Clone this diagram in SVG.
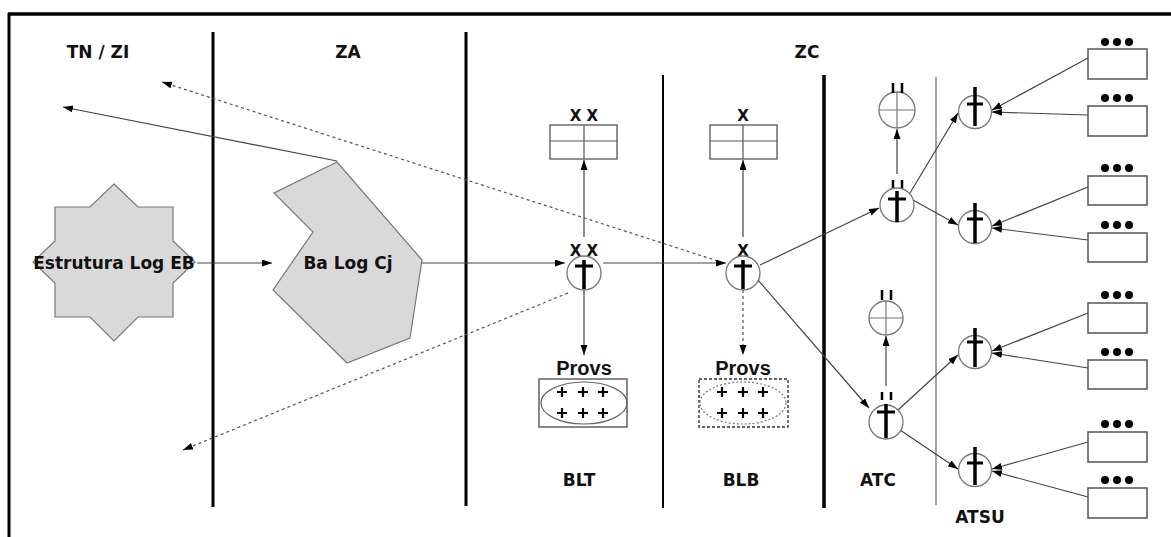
<svg xmlns="http://www.w3.org/2000/svg" width="1171" height="537" viewBox="0 0 1171 537">
<style>
.lbl{font-family:"DejaVu Sans",sans-serif;font-weight:bold;font-size:17px;fill:#111;text-anchor:middle}
.xs{font-family:"DejaVu Sans",sans-serif;font-weight:bold;font-size:15px;fill:#111;text-anchor:middle}
.prov{font-family:"Liberation Sans",Arial,sans-serif;font-weight:bold;font-size:20px;fill:#111;text-anchor:middle}
.div{stroke:#000;fill:none}
.con{stroke:#444;stroke-width:1.2;fill:none}
.dot{stroke:#555;stroke-width:1.2;fill:none;stroke-dasharray:3 3}
.circ{fill:#fff;stroke:#777;stroke-width:1.3}
.cross{stroke:#000;fill:none}
.box{fill:#fff;stroke:#555;stroke-width:1.5}
.shape{fill:#d9d9d9;stroke:#777;stroke-width:1.2}
.plus{stroke:#000;stroke-width:2.2}
</style>
<defs>
<marker id="ah" markerUnits="userSpaceOnUse" markerWidth="11" markerHeight="8" refX="10" refY="3.5" orient="auto">
<path d="M0,0 L10,3.5 L0,7 z" fill="#000"/>
</marker>
</defs>
<rect width="1171" height="537" fill="#fff"/>
<g id="frame">
<line x1="8" y1="14" x2="1171" y2="14" stroke="#000" stroke-width="3.5"/>
<line x1="9" y1="13" x2="9" y2="537" stroke="#000" stroke-width="3"/>
<line class="div" x1="213" y1="32" x2="213" y2="507" stroke-width="3"/>
<line class="div" x1="466" y1="32" x2="466" y2="506" stroke-width="3"/>
<line class="div" x1="663" y1="75" x2="663" y2="508" stroke-width="2"/>
<line class="div" x1="824" y1="75" x2="824" y2="508" stroke-width="3.5"/>
<line x1="936" y1="77" x2="936" y2="505" stroke="#666" stroke-width="1.2"/>
</g>
<g id="zone-labels">
<text class="lbl" x="98" y="58">TN / ZI</text>
<text class="lbl" x="348" y="58">ZA</text>
<text class="lbl" x="807" y="58">ZC</text>
<text class="lbl" x="579" y="486">BLT</text>
<text class="lbl" x="741" y="486">BLB</text>
<text class="lbl" x="878" y="486">ATC</text>
<text class="lbl" x="980" y="523">ATSU</text>
</g>
<g id="connectors">
<line class="con" x1="337" y1="161" x2="63" y2="107" marker-end="url(#ah)"/>
<line class="dot" x1="718" y1="261" x2="162" y2="82" marker-end="url(#ah)"/>
<line class="con" x1="197" y1="263" x2="272" y2="263" marker-end="url(#ah)"/>
<line class="con" x1="422" y1="263" x2="565" y2="263" marker-end="url(#ah)"/>
<line class="con" x1="603" y1="263" x2="726" y2="263" marker-end="url(#ah)"/>
<line class="con" x1="584" y1="237" x2="584" y2="160" marker-end="url(#ah)"/>
<line class="con" x1="743" y1="237" x2="743" y2="160" marker-end="url(#ah)"/>
<line class="con" x1="584" y1="290" x2="584" y2="355" marker-end="url(#ah)"/>
<line class="dot" x1="743" y1="290" x2="743" y2="355" marker-end="url(#ah)"/>
<line class="dot" x1="568" y1="293" x2="183" y2="450" marker-end="url(#ah)"/>
<line class="con" x1="760" y1="265" x2="879" y2="208" marker-end="url(#ah)"/>
<line class="con" x1="758" y1="280" x2="869" y2="408" marker-end="url(#ah)"/>
<line class="con" x1="897" y1="174" x2="897" y2="129" marker-end="url(#ah)"/>
<line class="con" x1="886" y1="386" x2="886" y2="336" marker-end="url(#ah)"/>
<line class="con" x1="910" y1="193" x2="958" y2="113" marker-end="url(#ah)"/>
<line class="con" x1="913" y1="200" x2="958" y2="225" marker-end="url(#ah)"/>
<line class="con" x1="898" y1="410" x2="958" y2="355" marker-end="url(#ah)"/>
<line class="con" x1="900" y1="430" x2="958" y2="469" marker-end="url(#ah)"/>
<line class="con" x1="1088" y1="58" x2="992" y2="110" marker-end="url(#ah)"/>
<line class="con" x1="1088" y1="115" x2="992" y2="112" marker-end="url(#ah)"/>
<line class="con" x1="1088" y1="187" x2="992" y2="226" marker-end="url(#ah)"/>
<line class="con" x1="1088" y1="240" x2="992" y2="228" marker-end="url(#ah)"/>
<line class="con" x1="1088" y1="313" x2="992" y2="351" marker-end="url(#ah)"/>
<line class="con" x1="1088" y1="368" x2="992" y2="353" marker-end="url(#ah)"/>
<line class="con" x1="1088" y1="442" x2="992" y2="469" marker-end="url(#ah)"/>
<line class="con" x1="1088" y1="497" x2="992" y2="471" marker-end="url(#ah)"/>
</g>
<g id="estrutura-log-eb">
<polygon class="shape" points="114,184 138,207 173,207 173,241 195,262 173,283 173,317 138,317 114,341 90,317 55,317 55,283 33,262 55,241 55,207 90,207"/>
<text class="lbl" x="114" y="269">Estrutura Log EB</text>
</g>
<g id="ba-log-cj">
<polygon class="shape" points="337,162 274,193 313,232 273,290 347,363 410,338 422,260"/>
<text class="lbl" x="348" y="269">Ba Log Cj</text>
</g>
<g id="blt-node">
<text class="xs" x="584" y="256">X X</text>
<circle class="circ" cx="584" cy="273" r="17"/>
<line class="cross" x1="584" y1="260" x2="584" y2="289" stroke-width="3.5"/>
<line class="cross" x1="575" y1="266" x2="593" y2="266" stroke-width="3"/>
</g>
<g id="blt-table">
<text class="xs" x="584" y="121">X X</text>
<rect x="550" y="125" width="67" height="34" fill="#fff" stroke="#555" stroke-width="1.3"/>
<line x1="550" y1="141" x2="617" y2="141" stroke="#555" stroke-width="1.2"/>
<line x1="584" y1="125" x2="584" y2="159" stroke="#555" stroke-width="1.2"/>
</g>
<g id="blt-provs">
<text class="prov" x="584" y="375">Provs</text>
<rect x="539" y="379" width="88" height="48" fill="#fff" stroke="#555" stroke-width="1.4"/>
<ellipse cx="584" cy="403" rx="43" ry="21" fill="none" stroke="#666" stroke-width="1.2"/>
<g class="plus">
<path d="M557,392h10M562,387v10M578,392h10M583,387v10M598,392h10M603,387v10M557,413h10M562,408v10M578,413h10M583,408v10M598,413h10M603,408v10"/>
</g>
</g>
<g id="blb-node">
<text class="xs" x="743" y="256">X</text>
<circle class="circ" cx="743" cy="273" r="17"/>
<line class="cross" x1="743" y1="260" x2="743" y2="289" stroke-width="3.5"/>
<line class="cross" x1="734" y1="266" x2="752" y2="266" stroke-width="3"/>
</g>
<g id="blb-table">
<text class="xs" x="743" y="121">X</text>
<rect x="710" y="125" width="67" height="34" fill="#fff" stroke="#555" stroke-width="1.3"/>
<line x1="710" y1="141" x2="777" y2="141" stroke="#555" stroke-width="1.2"/>
<line x1="743" y1="125" x2="743" y2="159" stroke="#555" stroke-width="1.2"/>
</g>
<g id="blb-provs">
<text class="prov" x="743" y="375">Provs</text>
<rect x="699" y="379" width="89" height="48" fill="#fff" stroke="#333" stroke-width="1.4" stroke-dasharray="3 2"/>
<ellipse cx="743" cy="403" rx="43" ry="21" fill="none" stroke="#777" stroke-width="1.2" stroke-dasharray="2 2"/>
<g class="plus">
<path d="M717,392h10M722,387v10M738,392h10M743,387v10M758,392h10M763,387v10M717,413h10M722,408v10M738,413h10M743,408v10M758,413h10M763,408v10"/>
</g>
</g>
<g id="atc-upper-unit">
<circle class="circ" cx="897" cy="110" r="18"/>
<line x1="879" y1="110" x2="915" y2="110" stroke="#777" stroke-width="1.2"/>
<line x1="897" y1="92" x2="897" y2="128" stroke="#777" stroke-width="1.2"/>
<path d="M893,83v10M902,83v10" stroke="#000" stroke-width="2.5"/>
</g>
<g id="atc-upper-node">
<path d="M893,180v9M902,180v9" stroke="#000" stroke-width="2.5"/>
<circle class="circ" cx="897" cy="205" r="17"/>
<line class="cross" x1="897" y1="191" x2="897" y2="222" stroke-width="3.5"/>
<line class="cross" x1="888" y1="199" x2="906" y2="199" stroke-width="3"/>
</g>
<g id="atc-lower-unit">
<circle class="circ" cx="886" cy="318" r="17"/>
<line x1="869" y1="318" x2="903" y2="318" stroke="#777" stroke-width="1.2"/>
<line x1="886" y1="301" x2="886" y2="335" stroke="#777" stroke-width="1.2"/>
<path d="M882,290v10M891,290v10" stroke="#000" stroke-width="2.5"/>
</g>
<g id="atc-lower-node">
<path d="M882,392v8M891,392v8" stroke="#000" stroke-width="2.5"/>
<circle class="circ" cx="886" cy="422" r="17"/>
<line class="cross" x1="886" y1="404" x2="886" y2="438" stroke-width="3.5"/>
<line class="cross" x1="877" y1="412" x2="895" y2="412" stroke-width="3"/>
</g>
<g id="atsu-node-1">
<circle class="circ" cx="975" cy="112" r="16.5"/>
<line class="cross" x1="975" y1="87" x2="975" y2="126" stroke-width="3.5"/>
<line class="cross" x1="967" y1="104" x2="983" y2="104" stroke-width="3"/>
</g>
<g id="atsu-node-2">
<circle class="circ" cx="975" cy="227" r="16.5"/>
<line class="cross" x1="975" y1="203" x2="975" y2="243" stroke-width="3.5"/>
<line class="cross" x1="967" y1="219" x2="983" y2="219" stroke-width="3"/>
</g>
<g id="atsu-node-3">
<circle class="circ" cx="975" cy="352" r="16.5"/>
<line class="cross" x1="975" y1="328" x2="975" y2="367" stroke-width="3.5"/>
<line class="cross" x1="967" y1="342" x2="983" y2="342" stroke-width="3"/>
</g>
<g id="atsu-node-4">
<circle class="circ" cx="975" cy="470" r="16.5"/>
<line class="cross" x1="975" y1="447" x2="975" y2="485" stroke-width="3.5"/>
<line class="cross" x1="967" y1="463" x2="983" y2="463" stroke-width="3"/>
</g>
<g id="unit-boxes" fill="#000">
<g id="box-1"><rect class="box" x="1088" y="49" width="59" height="30"/><circle cx="1105" cy="42" r="4"/><circle cx="1117" cy="42" r="4"/><circle cx="1129" cy="42" r="4"/></g>
<g id="box-2"><rect class="box" x="1088" y="106" width="59" height="30"/><circle cx="1105" cy="98" r="4"/><circle cx="1117" cy="98" r="4"/><circle cx="1129" cy="98" r="4"/></g>
<g id="box-3"><rect class="box" x="1088" y="176" width="59" height="29"/><circle cx="1105" cy="168" r="4"/><circle cx="1117" cy="168" r="4"/><circle cx="1129" cy="168" r="4"/></g>
<g id="box-4"><rect class="box" x="1088" y="233" width="59" height="29"/><circle cx="1105" cy="225" r="4"/><circle cx="1117" cy="225" r="4"/><circle cx="1129" cy="225" r="4"/></g>
<g id="box-5"><rect class="box" x="1088" y="303" width="59" height="30"/><circle cx="1105" cy="295" r="4"/><circle cx="1117" cy="295" r="4"/><circle cx="1129" cy="295" r="4"/></g>
<g id="box-6"><rect class="box" x="1088" y="360" width="59" height="29"/><circle cx="1105" cy="352" r="4"/><circle cx="1117" cy="352" r="4"/><circle cx="1129" cy="352" r="4"/></g>
<g id="box-7"><rect class="box" x="1088" y="432" width="59" height="30"/><circle cx="1105" cy="424" r="4"/><circle cx="1117" cy="424" r="4"/><circle cx="1129" cy="424" r="4"/></g>
<g id="box-8"><rect class="box" x="1088" y="488" width="59" height="30"/><circle cx="1105" cy="480" r="4"/><circle cx="1117" cy="480" r="4"/><circle cx="1129" cy="480" r="4"/></g>
</g>
</svg>
